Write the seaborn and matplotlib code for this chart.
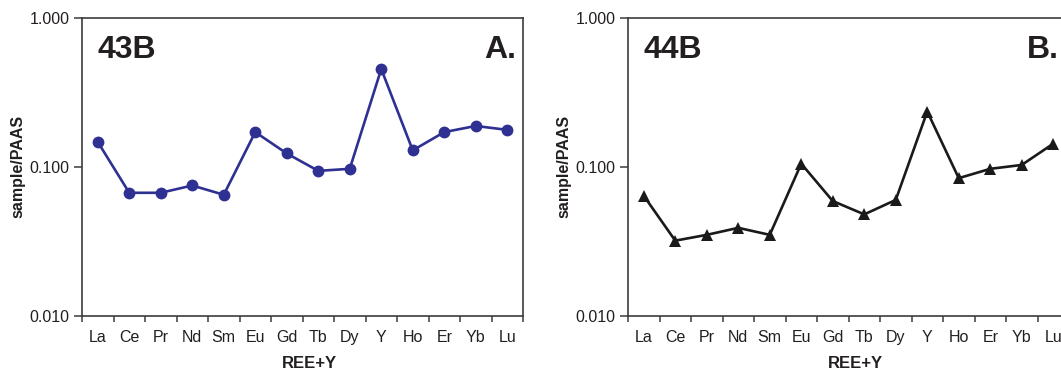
import matplotlib
matplotlib.use("Agg")
import matplotlib.pyplot as plt
import seaborn as sns
import numpy as np
import pandas as pd
from matplotlib.ticker import FixedLocator, FuncFormatter, NullLocator

elements = ["La", "Ce", "Pr", "Nd", "Sm", "Eu", "Gd", "Tb", "Dy", "Y", "Ho", "Er", "Yb", "Lu"]
sample_43B = [0.147, 0.067, 0.067, 0.075, 0.065, 0.171, 0.123, 0.094, 0.097, 0.453, 0.129, 0.171, 0.188, 0.177]
sample_44B = [0.064, 0.032, 0.035, 0.039, 0.035, 0.105, 0.059, 0.048, 0.060, 0.235, 0.084, 0.097, 0.103, 0.143]
y_ticks = [0.01, 0.1, 1.0]

sns.set_style("ticks")
plt.rcParams['font.family'] = ['Liberation Sans', 'DejaVu Sans']

TEXT = "#231f20"
SPINE = "#3c3c3c"

fig = plt.figure(figsize=(10.61, 3.72), dpi=100)
W, H = 1061, 372
ax_w = 441 / W
ax_b = 1 - 316 / H
ax_h = (316 - 17.7) / H
ax1 = fig.add_axes([82 / W, ax_b, ax_w, ax_h])
ax2 = fig.add_axes([628 / W, ax_b, ax_w, ax_h])

df = pd.DataFrame({"element": elements, "43B": sample_43B, "44B": sample_44B})
df["pos"] = np.arange(len(elements))

sns.lineplot(data=df, x="pos", y="43B", ax=ax1, color="#2e3192", marker="o",
             markersize=8.5, linewidth=1.9, markeredgewidth=0, markeredgecolor="#2e3192")
sns.lineplot(data=df, x="pos", y="44B", ax=ax2, color="#1a1a1a", marker="^",
             markersize=9, linewidth=1.9, markeredgewidth=0, markeredgecolor="#1a1a1a")

for ax, name, letter, lx in [(ax1, "43B", "A.", 0.984), (ax2, "44B", "B.", 0.977)]:
    ax.set_yscale("log")
    ax.set_ylim(0.01, 1.0)
    ax.set_xlim(-0.5, len(elements) - 0.5)
    ax.yaxis.set_major_locator(FixedLocator(y_ticks))
    ax.yaxis.set_minor_locator(NullLocator())
    ax.yaxis.set_major_formatter(FuncFormatter(lambda v, p: f"{v:.3f}"))
    ax.set_xticks(np.arange(len(elements)))
    ax.set_xticklabels(elements)
    ax.set_xticks(np.arange(len(elements) + 1) - 0.5, minor=True)
    ax.tick_params(axis="x", which="major", length=0, pad=10, labelsize=11.5, colors=TEXT)
    ax.tick_params(axis="x", which="minor", length=4.5, width=1.1, color=SPINE, direction="out")
    ax.tick_params(axis="y", which="major", length=5.5, width=1.1, color=SPINE, pad=3.5,
                   labelsize=11.5, labelcolor=TEXT, direction="out")
    for s in ax.spines.values():
        s.set_color(SPINE)
        s.set_linewidth(1.2)
    ax.set_xlabel("REE+Y", fontsize=12, fontweight="bold", color=TEXT)
    ax.set_ylabel("sample/PAAS", fontsize=11.5, fontweight="bold", color=TEXT)
    ax.xaxis.set_label_coords(0.515, -0.135)
    ax.yaxis.set_label_coords(-0.129, 0.5)
    ax.text(0.036, 0.943, name, transform=ax.transAxes, fontsize=23, fontweight="bold",
            ha="left", va="top", color=TEXT)
    ax.text(lx, 0.943, letter, transform=ax.transAxes, fontsize=23, fontweight="bold",
            ha="right", va="top", color=TEXT)
    ax.set_facecolor("white")

fig.savefig("out.png", dpi=100, facecolor="white")
